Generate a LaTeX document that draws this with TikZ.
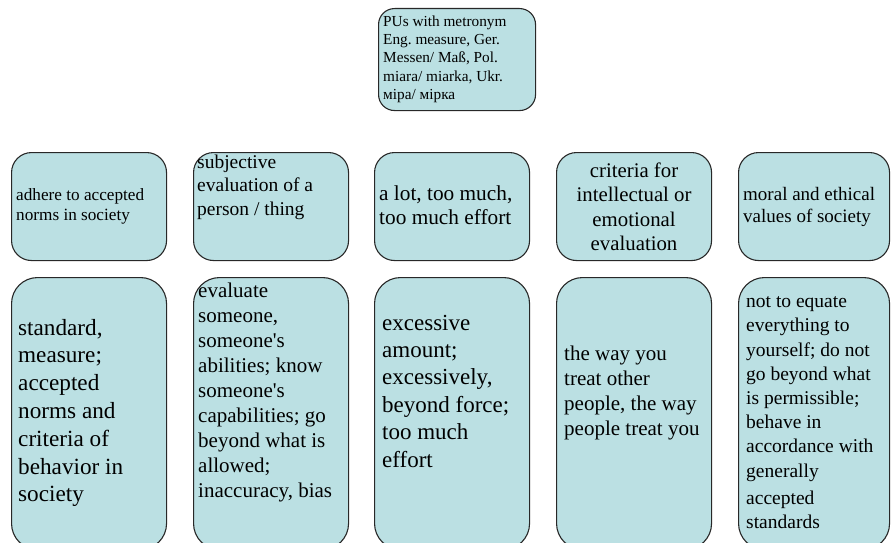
\documentclass[tikz,border=0pt]{standalone}
\usepackage{fontspec}
\setmainfont{Liberation Serif}
\frenchspacing
\definecolor{boxfill}{RGB}{187,224,227}
\definecolor{boxline}{RGB}{40,40,40}
\begin{document}
\begin{tikzpicture}[x=1pt,y=-1pt,
  card/.style={draw=boxline, line width=1.1pt, fill=boxfill, rounded corners=#1,
               inner sep=0pt, anchor=north west},
  card/.default=20pt,
  midcard/.style={card, minimum width=155pt, minimum height=108pt},
  lowcard/.style={card=26pt, minimum width=155pt, minimum height=272pt},
  lbl/.style={anchor=north west, inner sep=0pt, align=left, text=black},
  fs/.style n args={2}{font=\fontsize{#1}{#2}\selectfont},
]
\useasboundingbox (0,0) rectangle (891,543);
\clip (0,0) rectangle (891,543);

% root box
\node[card=16pt, minimum width=157pt, minimum height=102pt] (root) at (378,8) {};
\node[lbl, fs={15.3}{18.3}] (roott) at ([shift={(5,5.2)}]root.north west)
  {\strut PUs with metronym\\Eng. measure, Ger.\\Messen/ Maß, Pol.\\miara/ miarka, Ukr.\\міра/ мірка};

% middle row
\node[midcard] (m1) at (11,152) {};
\node[midcard] (m2) at (193,152) {};
\node[midcard] (m3) at (374,152) {};
\node[midcard] (m4) at (556,152) {};
\node[midcard, minimum width=151pt] (m5) at (738,152) {};

\node[lbl, fs={17.2}{20}] (m1t) at ([shift={(5,34.5)}]m1.north west)
  {\strut adhere to accepted\\norms in society};
\node[lbl, fs={19.5}{23.5}] (m2t) at ([shift={(4,-0.5)}]m2.north west)
  {\strut subjective\\evaluation of a\\person / thing};
\node[lbl, fs={21.3}{24}] (m3t) at ([shift={(5,31.7)}]m3.north west)
  {\strut a lot, too much,\\too much effort};
\node[lbl, anchor=north, align=center, fs={20.8}{24.5}] (m4t) at ([shift={(0,7.9)}]m4.north)
  {\strut criteria for\\intellectual or\\emotional\\evaluation};
\node[lbl, fs={19}{22}] (m5t) at ([shift={(5,33.1)}]m5.north west)
  {\strut moral and ethical\\values of society};

% lower row
\node[lowcard] (b1) at (11,277) {};
\node[lowcard] (b2) at (193,277) {};
\node[lowcard] (b3) at (374,277) {};
\node[lowcard] (b4) at (556,277) {};
\node[lowcard, minimum width=151pt] (b5) at (738,277) {};

\node[lbl, fs={23.2}{27.8}] (b1t) at ([shift={(7,38.4)}]b1.north west)
  {\strut standard,\\measure;\\accepted\\norms and\\criteria of\\behavior in\\society};
\node[lbl, fs={21}{25}] (b2t) at ([shift={(5,2.5)}]b2.north west)
  {\strut evaluate\\someone,\\someone\textquotesingle s\\abilities; know\\someone\textquotesingle s\\capabilities; go\\beyond what is\\allowed;\\inaccuracy, bias};
\node[lbl, fs={23}{27.4}] (b3t) at ([shift={(8,33.7)}]b3.north west)
  {\strut excessive\\amount;\\excessively,\\beyond force;\\too much\\effort};
\node[lbl, fs={21}{25}] (b4t) at ([shift={(8,65.5)}]b4.north west)
  {\strut the way you\\treat other\\people, the way\\people treat you};
\node[lbl, fs={19.5}{24.2}] (b5t) at ([shift={(8,13.5)}]b5.north west)
  {\strut not to equate\\everything to\\yourself; do not\\go beyond what\\is permissible;\\behave in\\accordance with\\generally\\[3pt]accepted\\standards};
\end{tikzpicture}
\end{document}
